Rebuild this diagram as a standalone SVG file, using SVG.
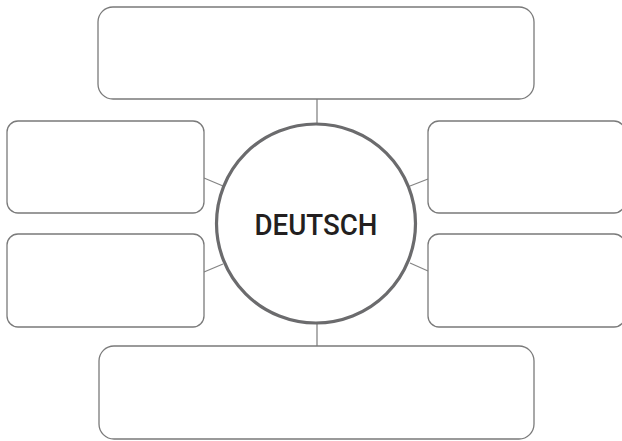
<svg xmlns="http://www.w3.org/2000/svg" width="622" height="441" viewBox="0 0 622 441">
<style>
.box{fill:#fff;stroke:#7a7a7a;stroke-width:1.3}
.conn{stroke:#858585;stroke-width:1.3;fill:none}
.hub{fill:#fff;stroke:#6b6b6d;stroke-width:3.2}
.lbl{font-family:Roboto,"Liberation Sans",sans-serif;font-weight:500;font-size:30px;fill:#231f20;text-anchor:middle}
</style>
<rect width="622" height="441" fill="#fff"/>
<g id="connectors">
<line class="conn" x1="317" y1="99" x2="317" y2="124"/>
<line class="conn" x1="317" y1="323" x2="317" y2="346"/>
<line class="conn" x1="204" y1="178" x2="223" y2="186"/>
<line class="conn" x1="204" y1="272" x2="223" y2="264"/>
<line class="conn" x1="410" y1="186" x2="428" y2="179"/>
<line class="conn" x1="410" y1="263" x2="428" y2="271"/>
</g>
<g id="top"><rect class="box" x="98" y="7" width="436" height="92" rx="15"/></g>
<g id="bottom"><rect class="box" x="99" y="346" width="435" height="93" rx="15"/></g>
<g id="left-upper"><rect class="box" x="7" y="121" width="197" height="92" rx="11"/></g>
<g id="left-lower"><rect class="box" x="7" y="234" width="197" height="93" rx="11"/></g>
<g id="right-upper"><rect class="box" x="428" y="121" width="197" height="92" rx="11"/></g>
<g id="right-lower"><rect class="box" x="428" y="234" width="197" height="93" rx="11"/></g>
<g id="center">
<circle class="hub" cx="316" cy="223.5" r="99.5"/>
<text class="lbl" x="316" y="235" textLength="123" lengthAdjust="spacingAndGlyphs">DEUTSCH</text>
</g>
</svg>
